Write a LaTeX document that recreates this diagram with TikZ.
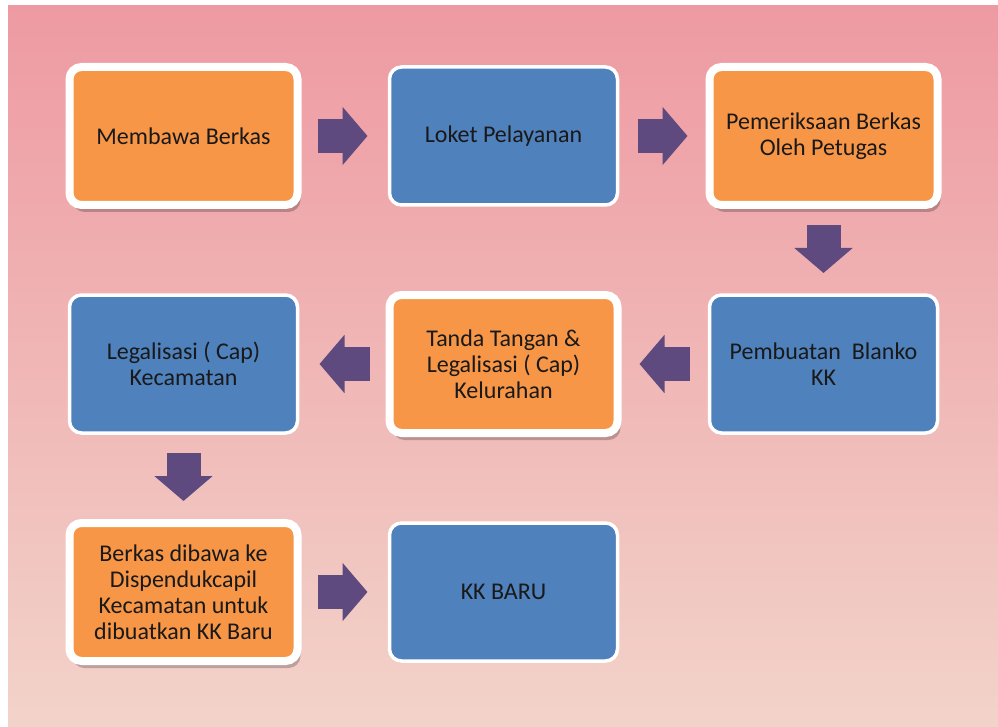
\documentclass[tikz,border=0pt]{standalone}
\usepackage{fontspec}
\setmainfont{Carlito}
\usetikzlibrary{arrows.meta,positioning,shadows}

\definecolor{boxorange}{HTML}{F79646}
\definecolor{boxblue}{HTML}{4F81BD}
\definecolor{flowpurple}{HTML}{5E4A7E}
\definecolor{bgtop}{HTML}{EE9AA2}
\definecolor{bgbottom}{HTML}{F2D3CA}

\begin{document}
\begin{tikzpicture}[x=1pt, y=-1pt, node distance=90pt and 92pt,
    box/.style={rectangle, rounded corners=12pt, minimum width=228pt, minimum height=138pt, outer sep=0pt, align=center, text=black!90, font=\fontsize{24}{26}\selectfont},
    orangebox/.style={box, fill=boxorange, draw=white, line width=8pt, drop shadow={shadow xshift=3pt, shadow yshift=-7pt, fill=black, opacity=0.22}},
    bluebox/.style={box, fill=boxblue, draw=white, line width=3.5pt},
    flow/.style={flowpurple, line width=34pt, -{Triangle[width=57pt,length=25pt]}, shorten <=20pt, shorten >=22pt}]

    % background
    \fill[white] (0,0) rectangle (998,727);
    \shade[top color=bgtop, bottom color=bgbottom] (8,6) rectangle (998,727);
    \useasboundingbox (0,0) rectangle (998,727);

    \node[orangebox] (berkas) at (183.5,136) {Membawa Berkas};
    \node[bluebox, right=of berkas] (loket) {Loket Pelayanan};
    \node[orangebox, right=of loket] (periksa) {Pemeriksaan Berkas\\Oleh Petugas};
    \node[bluebox, below=of periksa] (blanko) {Pembuatan~ Blanko\\KK};
    \node[orangebox, left=of blanko] (ttd) {Tanda Tangan \&\\Legalisasi ( Cap)\\Kelurahan};
    \node[bluebox, left=of ttd] (camat) {Legalisasi ( Cap)\\Kecamatan};
    \node[orangebox, below=of camat] (dispen) {Berkas dibawa ke\\Dispendukcapil\\Kecamatan untuk\\dibuatkan KK Baru};
    \node[bluebox, right=of dispen] (kkbaru) {KK BARU};

    \draw[flow] (berkas) -- (loket);
    \draw[flow] (loket) -- (periksa);
    \draw[flow] (periksa) -- (blanko);
    \draw[flow] (blanko) -- (ttd);
    \draw[flow] (ttd) -- (camat);
    \draw[flow] (camat) -- (dispen);
    \draw[flow] (dispen) -- (kkbaru);
\end{tikzpicture}
\end{document}
